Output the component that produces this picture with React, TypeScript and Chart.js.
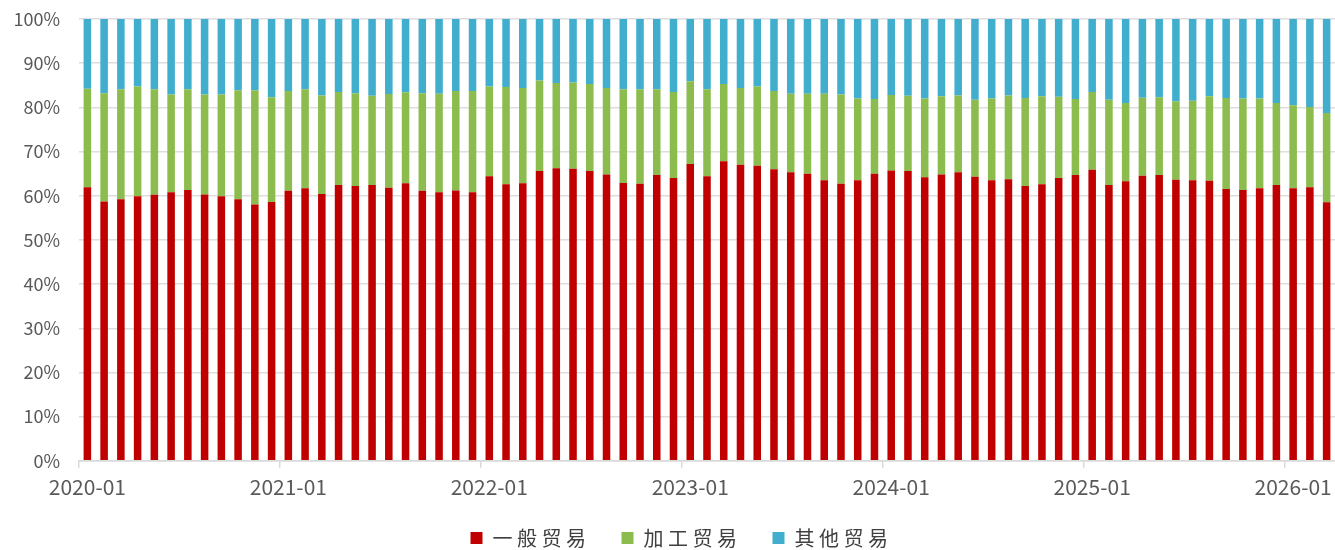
import React, { useEffect, useRef } from "react";
import { Chart, registerables } from "chart.js";

Chart.register(...registerables);

// Monthly categories 2020-01 .. 2026-03
const startYear = 2020;
const monthCount = 75;
const categories: string[] = [];
for (let i = 0; i < monthCount; i++) {
  const y = startYear + Math.floor(i / 12);
  const m = (i % 12) + 1;
  categories.push(`${y}-${String(m).padStart(2, "0")}`);
}
const isYearStart = (i: number) => !!categories[i] && categories[i].endsWith("-01");

const seriesNames = ["一般贸易", "加工贸易", "其他贸易"];
const seriesColors = ["#C00000", "#8CBC4D", "#41AECE"];

const generalTrade = [
  61.9, 58.7, 59.2, 59.9, 60.2, 60.8, 61.3, 60.3, 59.9, 59.2, 58.0, 58.6,
  61.1, 61.7, 60.4, 62.4, 62.2, 62.4, 61.8, 62.8, 61.1, 60.8, 61.2, 60.8,
  64.4, 62.6, 62.8, 65.6, 66.2, 66.1, 65.6, 64.8, 62.9, 62.7, 64.7, 64.0,
  67.2, 64.4, 67.8, 67.0, 66.8, 66.0, 65.3, 65.0, 63.5, 62.7, 63.5, 65.0,
  65.7, 65.6, 64.2, 64.8, 65.3, 64.3, 63.5, 63.7, 62.2, 62.6, 64.0, 64.7,
  65.9, 62.4, 63.3, 64.5, 64.7, 63.6, 63.5, 63.4, 61.5, 61.3, 61.7, 62.4,
  61.7, 61.9, 58.5,
];

const processingTrade = [
  22.3, 24.5, 24.9, 24.8, 23.9, 22.1, 22.8, 22.6, 23.0, 24.7, 25.9, 23.7,
  22.6, 22.4, 22.3, 21.1, 21.0, 20.2, 21.2, 20.6, 22.1, 22.3, 22.5, 22.9,
  20.3, 22.0, 21.6, 20.5, 19.3, 19.5, 19.7, 19.6, 21.2, 21.4, 19.4, 19.5,
  18.7, 19.7, 17.5, 17.4, 17.9, 17.7, 17.8, 18.1, 19.6, 20.2, 18.5, 16.9,
  17.1, 17.0, 17.8, 17.7, 17.4, 17.4, 18.5, 19.0, 19.9, 19.9, 18.4, 17.2,
  17.6, 19.3, 17.7, 17.7, 17.6, 17.8, 18.0, 19.1, 20.6, 20.7, 20.3, 18.6,
  18.8, 18.2, 20.2,
];

const otherTrade = [
  15.8, 16.8, 15.9, 15.3, 15.9, 17.1, 15.9, 17.1, 17.1, 16.1, 16.1, 17.7,
  16.3, 15.9, 17.3, 16.5, 16.8, 17.4, 17.0, 16.6, 16.8, 16.9, 16.3, 16.3,
  15.3, 15.4, 15.6, 13.9, 14.5, 14.4, 14.7, 15.6, 15.9, 15.9, 15.9, 16.5,
  14.1, 15.9, 14.7, 15.6, 15.3, 16.3, 16.9, 16.9, 16.9, 17.1, 18.0, 18.1,
  17.2, 17.4, 18.0, 17.5, 17.3, 18.3, 18.0, 17.3, 17.9, 17.5, 17.6, 18.1,
  16.5, 18.3, 19.0, 17.8, 17.7, 18.6, 18.5, 17.5, 17.9, 18.0, 18.0, 19.0,
  19.5, 19.9, 21.3,
];

const FONT = "'Noto Sans CJK SC', 'Noto Sans', sans-serif";
const LEGEND_SPACING = "4.5px";
const LEGEND_SHIFT_X = 14;
const LEGEND_SHIFT_Y = -10;
const AXIS_GRAY = "#d9d9d9";

export default function App() {
  const canvasRef = useRef<HTMLCanvasElement | null>(null);

  useEffect(() => {
    const canvas = canvasRef.current;
    if (!canvas) return;
    const chart = new Chart(canvas, {
      type: "bar",
      data: {
        labels: categories,
        datasets: [generalTrade, processingTrade, otherTrade].map((d, i) => ({
          label: seriesNames[i],
          data: d,
          backgroundColor: seriesColors[i],
          borderWidth: 0,
          barPercentage: 0.45,
          categoryPercentage: 1.0,
        })),
      },
      options: {
        responsive: false,
        animation: false,
        layout: { padding: { top: 19, left: 0, right: 0, bottom: 0 } },
        plugins: {
          tooltip: { enabled: false },
          legend: {
            position: "bottom",
            maxHeight: 43,
            labels: {
              boxWidth: 12,
              boxHeight: 12,
              padding: 31,
              color: "#404040",
              font: { family: FONT, size: 20 },
            },
          },
        },
        scales: {
          x: {
            stacked: true,
            offset: true,
            grid: {
              offset: true,
              drawOnChartArea: false,
              drawTicks: true,
              tickLength: 7,
              color: (c: any) => (isYearStart(c.index) ? AXIS_GRAY : "rgba(0,0,0,0)"),
              tickColor: (c: any) => (isYearStart(c.index) ? AXIS_GRAY : "rgba(0,0,0,0)"),
              lineWidth: 1.5,
            },
            border: { display: true, color: AXIS_GRAY, width: 1.5 },
            ticks: {
              autoSkip: false,
              maxRotation: 0,
              minRotation: 0,
              padding: 7,
              color: "#595959",
              font: { family: FONT, size: 21 },
              callback: (_v: any, index: number) =>
                isYearStart(index) ? categories[index] : "",
            },
          },
          y: {
            stacked: true,
            min: 0,
            max: 100,
            afterFit: (scale: any) => {
              scale.width = 79;
            },
            grid: {
              color: "#dedede",
              lineWidth: 1.5,
              drawTicks: true,
              tickLength: 19,
              tickColor: "rgba(0,0,0,0)",
            },
            border: { display: false },
            ticks: {
              stepSize: 10,
              padding: 0,
              color: "#595959",
              font: { family: FONT, size: 18 },
              callback: (v: any) => `${v}%`,
            },
          },
        },
      },
    });

    const lg: any = (chart as any).legend;
    if (lg) {
      const ctx: any = chart.ctx;
      const origFit = lg.fit.bind(lg);
      lg.fit = (...args: any[]) => {
        const prev = ctx.letterSpacing;
        ctx.letterSpacing = LEGEND_SPACING;
        try {
          return origFit(...args);
        } finally {
          ctx.letterSpacing = prev ?? "0px";
        }
      };
      const origDraw = lg.draw.bind(lg);
      lg.draw = (...args: any[]) => {
        const prev = ctx.letterSpacing;
        ctx.letterSpacing = LEGEND_SPACING;
        lg.left += LEGEND_SHIFT_X;
        lg.right += LEGEND_SHIFT_X;
        lg.top += LEGEND_SHIFT_Y;
        try {
          return origDraw(...args);
        } finally {
          lg.left -= LEGEND_SHIFT_X;
          lg.right -= LEGEND_SHIFT_X;
          lg.top -= LEGEND_SHIFT_Y;
          ctx.letterSpacing = prev ?? "0px";
        }
      };
      chart.update();
    }

    return () => chart.destroy();
  }, []);

  return (
    <div style={{ position: "absolute", left: 0, top: 0, width: 1335, height: 550, background: "#fff" }}>
      <canvas ref={canvasRef} width={1335} height={550} />
    </div>
  );
}
